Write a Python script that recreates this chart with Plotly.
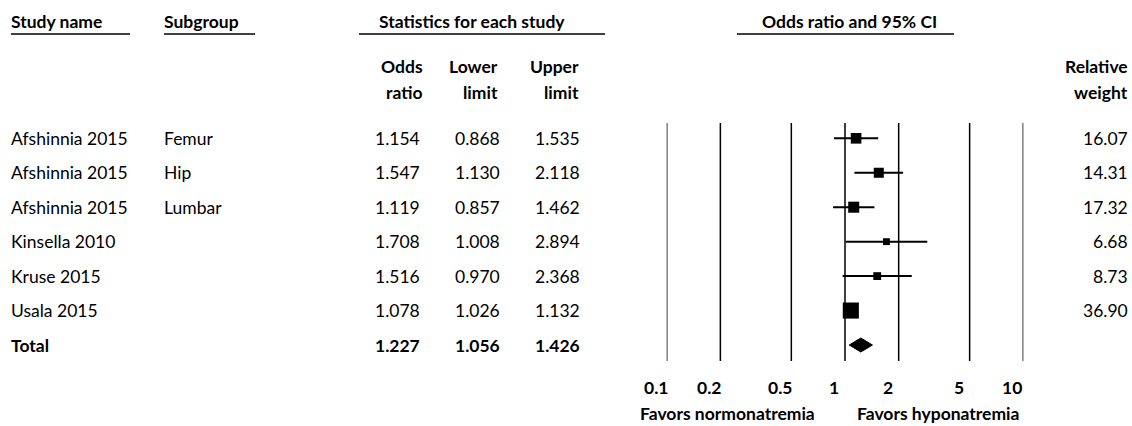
import numpy as np
import plotly.graph_objects as go

# ---------------- data ----------------
studies = ["Afshinnia 2015", "Afshinnia 2015", "Afshinnia 2015",
           "Kinsella 2010", "Kruse 2015", "Usala 2015"]
subgroups = ["Femur", "Hip", "Lumbar", "", "", ""]
odds = [1.154, 1.547, 1.119, 1.708, 1.516, 1.078]
lower = [0.868, 1.130, 0.857, 1.008, 0.970, 1.026]
upper = [1.535, 2.118, 1.462, 2.894, 2.368, 1.132]
weights = [16.07, 14.31, 17.32, 6.68, 8.73, 36.90]
total_label = "Total"
total_or = 1.227
total_lo = 1.056
total_hi = 1.426
tick_vals = [0.1, 0.2, 0.5, 1, 2, 5, 10]
tick_text = ["0.1", "0.2", "0.5", "1", "2", "5", "10"]

# ---------------- layout constants ----------------
W, H = 1132, 426
X0_PX, X1_PX = 666.7, 1023.3
ROW0_PX, ROW_STEP = 138.3, 34.45
LINE_TOP_PX, LINE_BOT_PX = 123, 361
FONT = "Lato"
FS = 17.5


def px(x):
    return x / W


def py(y):
    return 1 - y / H


def prow(y):
    return (y - ROW0_PX) / ROW_STEP


n = len(studies)
rows = list(range(n))
total_row = n

fig = go.Figure()

# vertical reference lines
gx, gy = [], []
for v in tick_vals:
    gx += [v, v, None]
    gy += [prow(LINE_TOP_PX), prow(LINE_BOT_PX), None]
fig.add_trace(go.Scatter(x=gx, y=gy, mode="lines",
                         line=dict(color="black", width=1.5),
                         hoverinfo="skip", showlegend=False))

# CI lines
cx, cy = [], []
for i in rows:
    cx += [lower[i], upper[i], None]
    cy += [i, i, None]
fig.add_trace(go.Scatter(x=cx, y=cy, mode="lines",
                         line=dict(color="black", width=2),
                         hoverinfo="skip", showlegend=False))

# squares
fig.add_trace(go.Scatter(x=odds, y=rows, mode="markers",
                         marker=dict(symbol="square", color="black", opacity=1,
                                     size=[2.65 * np.sqrt(w) for w in weights],
                                     line=dict(width=0)),
                         showlegend=False))

# diamond
hh = 7.0 / ROW_STEP
fig.add_trace(go.Scatter(x=[total_lo, total_or, total_hi, total_or, total_lo],
                         y=[total_row, total_row - hh, total_row, total_row + hh, total_row],
                         mode="lines", fill="toself", fillcolor="black",
                         line=dict(color="black", width=1),
                         showlegend=False))

ann = []


def add_text(text, x, y, xanchor="left", yref="y", bold=False, xref="paper", xshift=0):
    ann.append(dict(text=("<b>%s</b>" % text) if bold else text,
                    x=x, y=y, xref=xref, yref=yref, xanchor=xanchor,
                    yanchor="middle", showarrow=False, xshift=xshift,
                    font=dict(family=FONT, size=FS, color="black")))


# top headers
add_text("Study name", px(9), py(21), yref="paper", bold=True)
add_text("Subgroup", px(162), py(21), yref="paper", bold=True)
add_text("Statistics for each study", px(472), py(21), xanchor="center", yref="paper", bold=True)
add_text("Odds ratio and 95% CI", px(849), py(21), xanchor="center", yref="paper", bold=True)

# second header
add_text("Odds", px(425), py(67), xanchor="right", yref="paper", bold=True)
add_text("ratio", px(425), py(93), xanchor="right", yref="paper", bold=True)
add_text("Lower", px(500), py(67), xanchor="right", yref="paper", bold=True)
add_text("limit", px(500), py(93), xanchor="right", yref="paper", bold=True)
add_text("Upper", px(581), py(67), xanchor="right", yref="paper", bold=True)
add_text("limit", px(581), py(93), xanchor="right", yref="paper", bold=True)
add_text("Relative", px(1130), py(67), xanchor="right", yref="paper", bold=True)
add_text("weight", px(1130), py(93), xanchor="right", yref="paper", bold=True)

# rows
for i in rows:
    add_text(studies[i], px(9), i)
    if subgroups[i]:
        add_text(subgroups[i], px(162), i)
    add_text("%.3f" % odds[i], px(422), i, xanchor="right")
    add_text("%.3f" % lower[i], px(502), i, xanchor="right")
    add_text("%.3f" % upper[i], px(582), i, xanchor="right")
    add_text("%.2f" % weights[i], px(1130), i, xanchor="right")

add_text(total_label, px(9), total_row, bold=True)
add_text("%.3f" % total_or, px(422), total_row, xanchor="right", bold=True)
add_text("%.3f" % total_lo, px(502), total_row, xanchor="right", bold=True)
add_text("%.3f" % total_hi, px(582), total_row, xanchor="right", bold=True)

# axis tick labels
for v, t in zip(tick_vals, tick_text):
    add_text(t, np.log10(v), py(387), xanchor="center", yref="paper", bold=True,
             xref="x", xshift=-11)

add_text("Favors normonatremia", px(638), py(413.5), yref="paper", bold=True)
add_text("Favors hyponatremia", px(855), py(413.5), yref="paper", bold=True)

# header underlines
shapes = []
for a, b in [(11, 130), (164, 255), (359, 605), (737, 954)]:
    shapes.append(dict(type="line", xref="paper", yref="paper",
                       x0=px(a), x1=px(b), y0=py(34), y1=py(34),
                       line=dict(color="black", width=1.3)))

fig.update_layout(
    width=W, height=H,
    margin=dict(l=0, r=0, t=0, b=0),
    paper_bgcolor="white", plot_bgcolor="white",
    annotations=ann, shapes=shapes,
    xaxis=dict(type="log", range=[np.log10(tick_vals[0]), np.log10(tick_vals[-1])],
               domain=[px(X0_PX), px(X1_PX)], visible=False),
    yaxis=dict(range=[prow(H), prow(0)], domain=[0, 1], visible=False),
    showlegend=False,
)

fig.write_html("out.html", config={"displayModeBar": False},
               post_script="document.body.style.margin='0px';document.body.style.padding='0px';")
